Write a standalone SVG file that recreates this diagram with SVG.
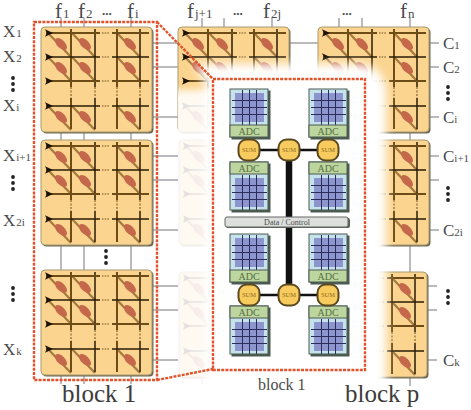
<svg xmlns="http://www.w3.org/2000/svg" xmlns:xlink="http://www.w3.org/1999/xlink" width="471" height="410" viewBox="0 0 471 410">
<style>
text{font-family:"Liberation Serif","Times New Roman",serif;fill:#4a4a4a}
.lab{font-size:17px}
.sub{font-size:11px}
.fl{font-size:21px}
.fs{font-size:13px}
.big{font-size:25px;fill:#3c3c3c}
.adc{font-size:10px;fill:#56703f;text-anchor:middle}
.sum{font-size:6.5px;fill:#8a6a20;text-anchor:middle}
.ln{stroke:#77777f;stroke-width:1;fill:none}
.red{stroke:#e2532c;stroke-width:2.4;stroke-dasharray:3 1.2;fill:none}
.rb{stroke:#6d4c17;stroke-width:2;fill:none}
.rd{stroke:#2a1c08;stroke-width:1.5;fill:none}
.dash{stroke-dasharray:2 1.5;stroke-width:1}
.grid{stroke:#2c2c58;stroke-width:1}
</style>
<defs>
<filter id="b5" x="-20%" y="-20%" width="140%" height="140%"><feGaussianBlur stdDeviation="5"/></filter>
<filter id="b3" x="-20%" y="-20%" width="140%" height="140%"><feGaussianBlur stdDeviation="3"/></filter>
<clipPath id="cl"><rect x="178" y="40" width="230" height="370"/></clipPath>
<g id="cell">
<path d="M-23 0L0 24" stroke="#a5793f" stroke-width="2.2" fill="none"/>
<ellipse cx="-10" cy="11" rx="7.5" ry="4" transform="rotate(45 -10 11)" fill="#c5674a"/>
</g>
<path id="arr" d="M0-3.8L8 0L0 3.8L1.8 0Z" fill="#1c1206"/>
<g id="xb">
<rect x="1.5" y="1.5" width="111" height="105" rx="4" fill="#6c6650"/>
<rect x="0" y="0" width="111" height="105" rx="4" fill="#fbd48f" stroke="#a89a70" stroke-width="1"/>
<use href="#cell" x="30" y="6"/><use href="#cell" x="54" y="6"/><use href="#cell" x="99" y="6"/>
<use href="#cell" x="30" y="30"/><use href="#cell" x="54" y="30"/><use href="#cell" x="99" y="30"/>
<use href="#cell" x="30" y="79"/><use href="#cell" x="54" y="79"/><use href="#cell" x="99" y="79"/>
<path class="rb" d="M30 2V60M76 2V60M30 71V102M76 71V102"/>
<path class="rd" d="M54 2V60M99 2V60M54 71V102M99 71V102"/>
<path class="rb dash" d="M30 60V71M76 60V71M54 60V71M99 60V71"/>
<path class="rb" d="M5 6H59M71 6H108M5 54H59M71 54H108"/>
<path class="rd" d="M5 30H59M71 30H108M5 79H59M71 79H108"/>
<path d="M61 6H69M61 30H69M61 54H69M61 79H69" stroke="#6d4c17" stroke-width="1.2" stroke-dasharray="1.5 1.2"/>
<use href="#arr" x="4" y="6"/><use href="#arr" x="4" y="30"/><use href="#arr" x="4" y="54"/><use href="#arr" x="4" y="79"/>
</g>
<g id="gridbox">
<rect x="1.5" y="1.5" width="39" height="49" fill="#4a5a50"/>
<rect x="0" y="0" width="38" height="48" fill="#c6e2ea" stroke="#4d5d55"/>
</g>
<g id="gr">
<rect x="0" y="0" width="29" height="29" fill="#8d95cf"/>
<path class="grid" d="M7.5-3V32M14.5-3V32M21.5-3V32M-3 7.5H32M-3 14.5H32M-3 21.5H32"/>
</g>
<g id="adcT">
<use href="#gridbox"/>
<use href="#gr" x="5" y="4"/>
<rect x="0" y="36" width="38" height="12" fill="#bdd59e" stroke="#4d5d55"/>
<text class="adc" x="19" y="45.5">ADC</text>
</g>
<g id="adcB">
<use href="#gridbox"/>
<use href="#gr" x="5" y="16"/>
<rect x="0" y="0" width="38" height="12" fill="#bdd59e" stroke="#4d5d55"/>
<text class="adc" x="19" y="9.5">ADC</text>
</g>
<g id="sumn">
<rect x="-10.5" y="-10.5" width="21" height="21" rx="8" fill="#f8cb5e" stroke="#5b4a20" stroke-width="2"/>
<text class="sum" x="0" y="2.3">SUM</text>
</g>
<g id="dots"><circle cx="0" cy="0" r="1.9" fill="#222"/><circle cx="0" cy="6" r="1.9" fill="#222"/><circle cx="0" cy="12" r="1.9" fill="#222"/></g>
</defs>
<rect width="471" height="410" fill="#fff"/>
<g id="connectors">
<path class="ln" d="M61 18V27M84 18V27M131 18V27M61 132V140M84 132V140M131 132V140M61 245V270M84 245V270M131 245V270M61 375V384M84 375V384M131 375V384"/>
<path class="ln" d="M202 18V27M224 18V27M272 18V27M202 375V384M339 18V27M362 18V27M410 18V27M410 132V140M410 245V272M410 377V386"/>
<path class="ln" d="M152 43H178M152 67H178M152 117H178M152 156H180M152 180H180M152 230H180M152 286H180M152 310H180M152 360H180M290 43H318"/>
<path class="ln" d="M429 43H439M429 67H439M429 117H439M429 156H439M429 180H439M429 230H439M427 286H437M427 310H437M427 360H437"/>
</g>
<g id="block-1a"><use href="#xb" x="41" y="27"/></g>
<g id="block-1b"><use href="#xb" x="41" y="140"/></g>
<g id="block-1c"><use href="#xb" x="41" y="270"/></g>
<g id="block-2a"><use href="#xb" x="178" y="27"/></g>
<g id="block-2b"><use href="#xb" x="179" y="140"/></g>
<g id="block-2c"><use href="#xb" x="179" y="272"/></g>
<g id="block-pa"><use href="#xb" x="318" y="27"/></g>
<g id="block-pb"><use href="#xb" x="318" y="140"/></g>
<g id="block-pc"><use href="#xb" x="316" y="272"/></g>
<g id="veil" clip-path="url(#cl)">
<rect x="160" y="90" width="60" height="320" fill="#fff" opacity="0.88" filter="url(#b3)"/>
<path d="M195 64H360Q384 66 386 92V405H205V84Z" fill="#fff" filter="url(#b5)"/>
</g>
<g id="zoom-lines">
<rect class="red" x="34" y="22" width="123" height="358"/>
<path class="red" d="M157 22L213 79M157 380L213 369"/>
<rect class="red" x="213" y="79" width="152" height="291"/>
</g>
<g id="bus">
<path d="M289 150V217M289 227V295" stroke="#111" stroke-width="6.5" fill="none"/>
<path d="M249 150H328M249 295H328" stroke="#111" stroke-width="2.5" fill="none"/>
</g>
<g id="adc1"><use href="#adcT" x="230" y="89"/></g>
<g id="adc2"><use href="#adcT" x="309" y="89"/></g>
<g id="adc3"><use href="#adcB" x="230" y="162"/></g>
<g id="adc4"><use href="#adcB" x="309" y="162"/></g>
<g id="adc5"><use href="#adcT" x="230" y="234"/></g>
<g id="adc6"><use href="#adcT" x="309" y="234"/></g>
<g id="adc7"><use href="#adcB" x="230" y="306"/></g>
<g id="adc8"><use href="#adcB" x="309" y="306"/></g>
<g id="sum1"><use href="#sumn" x="249" y="150"/></g>
<g id="sum2"><use href="#sumn" x="289" y="150"/></g>
<g id="sum3"><use href="#sumn" x="328" y="150"/></g>
<g id="sum4"><use href="#sumn" x="249" y="295"/></g>
<g id="sum5"><use href="#sumn" x="289" y="295"/></g>
<g id="sum6"><use href="#sumn" x="328" y="295"/></g>
<g id="data-control">
<rect x="226" y="218" width="124" height="10" rx="2" fill="#5a5f5a"/>
<rect x="225" y="217" width="123" height="10" rx="2" fill="#dcdfdc" stroke="#666"/>
<text x="287" y="225" font-size="8" text-anchor="middle" fill="#555">Data / Control</text>
</g>
<g id="labels">
<text class="lab" x="3" y="37">X<tspan class="sub" dx="1">1</tspan></text>
<text class="lab" x="3" y="62">X<tspan class="sub" dx="1">2</tspan></text>
<text class="lab" x="3" y="111">X<tspan class="sub" dx="1">i</tspan></text>
<text class="lab" x="3" y="161">X<tspan class="sub" dx="1">i+1</tspan></text>
<text class="lab" x="3" y="226">X<tspan class="sub" dx="1">2i</tspan></text>
<text class="lab" x="3" y="355">X<tspan class="sub" dx="1">k</tspan></text>
<text class="fl" x="55" y="18">f<tspan class="fs" dx="1">1</tspan></text>
<text class="fl" x="78" y="18">f<tspan class="fs" dx="1">2</tspan></text>
<text class="fl" x="127" y="18">f<tspan class="fs" dx="1">i</tspan></text>
<text class="fl" x="187" y="18">f<tspan class="fs" dx="1">j+1</tspan></text>
<text class="fl" x="263" y="18">f<tspan class="fs" dx="1">2j</tspan></text>
<text class="fl" x="400" y="18">f<tspan class="fs" dx="1">n</tspan></text>
<text class="fs" x="102" y="15" font-weight="bold" fill="#333">...</text>
<text class="fs" x="233" y="15" font-weight="bold" fill="#333">...</text>
<text class="fs" x="342" y="15" font-weight="bold" fill="#333">...</text>
<text class="lab" x="443" y="49">C<tspan class="sub">1</tspan></text>
<text class="lab" x="443" y="73">C<tspan class="sub">2</tspan></text>
<text class="lab" x="443" y="123">C<tspan class="sub">i</tspan></text>
<text class="lab" x="443" y="162">C<tspan class="sub">i+1</tspan></text>
<text class="lab" x="443" y="236">C<tspan class="sub">2i</tspan></text>
<text class="lab" x="443" y="366">C<tspan class="sub">k</tspan></text>
<text class="big" x="62" y="402">block 1</text>
<text class="big" x="345" y="402">block p</text>
<text x="258" y="390" font-size="16" fill="#555">block 1</text>
<use href="#dots" x="13" y="78"/>
<use href="#dots" x="13" y="177"/>
<use href="#dots" x="13" y="288"/>
<use href="#dots" x="106" y="251"/>
<use href="#dots" x="448" y="87"/>
<use href="#dots" x="448" y="188"/>
<use href="#dots" x="448" y="291"/>
</g>
</svg>
